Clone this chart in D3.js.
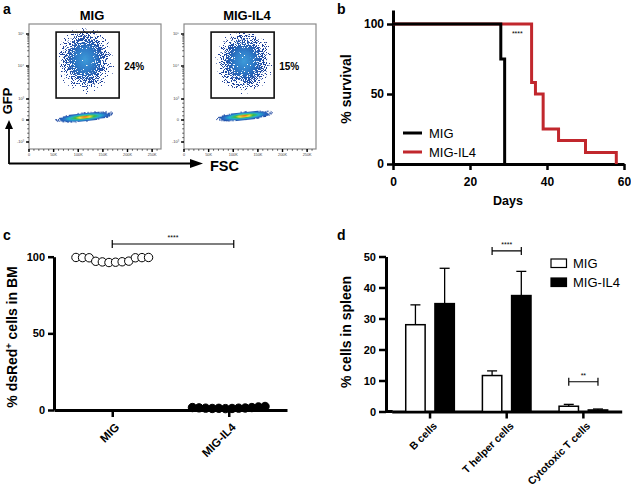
<!DOCTYPE html>
<html><head><meta charset="utf-8">
<script src="https://cdn.jsdelivr.net/npm/d3@7"></script>
<style>body{margin:0;background:#fff}svg{display:block;font-family:"Liberation Sans",Arial,Helvetica,sans-serif}</style>
</head><body><svg id="chart" width="631" height="493"></svg>
<script>
// ---------------- data ----------------
// panel a (flow cytometry)
const flowSamples = ["MIG", "MIG-IL4"];
const gatePercents = ["24%", "15%"];
const gateFSC = [55000, 183000];
const gateGFP = [1.03, 3.06];           // decades (1 = 10^3, 2 = 10^4, 3 = 10^5)
const posCenterFSC = [116000, 124000];
const posCenterGFP = [2.15, 2.1];
const posSpreadFSC = [62000, 62000];
const posSpreadGFP = [1.1, 1.05];
const negCenterFSC = [117000, 126000];
const negCenterGFP = [0.15, 0.2];
const negSpreadFSC = [66000, 63000];
const negSpreadGFP = [0.24, 0.24];
const fscTicks = [0, 50000, 100000, 150000, 200000, 250000];
const fscTickLabels = ["0", "50K", "100K", "150K", "200K", "250K"];
const gfpTicks = [-1, 0, 1, 2, 3];
const gfpTickLabels = ["-10\u00b3", "0", "10\u00b3", "10\u2074", "10\u2075"];

// panel b (survival)
const migDays = [0, 28, 29];
const migSurvival = [100, 75, 0];
const il4Days = [0, 36, 37, 39, 43, 50, 58];
const il4Survival = [100, 58.3, 50, 25, 16.7, 8.3, 0];
const survivalTicksX = [0, 20, 40, 60];
const survivalTicksY = [0, 50, 100];

// panel c (dsRed+ cells in BM)
const bmGroups = ["MIG", "MIG-IL4"];
const bmMIG = [99.5, 99.4, 99.3, 97.0, 96.6, 96.2, 96.4, 96.7, 97.1, 99.3, 99.4, 99.5];
const bmIL4 = [1.6, 1.4, 1.2, 1.0, 1.1, 0.9, 1.0, 1.2, 1.3, 1.6, 2.0, 2.3];
const bmTicks = [0, 50, 100];
const bmSigLabel = "****";
const bmSigY = 108.3;

// panel d (% cells in spleen)
const spleenCats = ["B cells", "T helper cells", "Cytotoxic T cells"];
const spleenSeries = ["MIG", "MIG-IL4"];
const spleenMIG = [28.0, 11.6, 1.7];
const spleenMIGerr = [6.4, 1.5, 0.6];
const spleenIL4 = [34.8, 37.4, 0.5];
const spleenIL4err = [11.4, 7.8, 0.3];
const spleenSig = ["", "****", "**"];
const spleenSigY = [null, 51.8, 9.6];
const spleenTicks = [0, 10, 20, 30, 40, 50];

// ---------------- drawing ----------------
const svg = d3.select("#chart");
const RED = "#c1272d";
const FONT = "Liberation Sans, Arial, sans-serif";
const defs = svg.append("defs");

// stipple filter to render density as dots
const f = defs.append("filter").attr("id", "stip")
  .attr("x", "-20%").attr("y", "-40%").attr("width", "140%").attr("height", "180%");
f.append("feTurbulence").attr("type", "fractalNoise").attr("baseFrequency", 1.1)
  .attr("numOctaves", 2).attr("seed", 7).attr("result", "noise");
f.append("feColorMatrix").attr("in", "noise").attr("type", "matrix")
  .attr("values", "0 0 0 0 0  0 0 0 0 0  0 0 0 0 0  1 0 0 0 0").attr("result", "na");
f.append("feComposite").attr("in", "SourceAlpha").attr("in2", "na").attr("operator", "arithmetic")
  .attr("k1", 0).attr("k2", 1).attr("k3", -1).attr("k4", 0).attr("result", "diff");
const ct = f.append("feComponentTransfer").attr("in", "diff").attr("result", "mask");
ct.append("feFuncA").attr("type", "linear").attr("slope", 30).attr("intercept", 0);
f.append("feColorMatrix").attr("in", "SourceGraphic").attr("type", "matrix")
  .attr("values", "1 0 0 0 0  0 1 0 0 0  0 0 1 0 0  0 0 0 0 1").attr("result", "opaque");
f.append("feComposite").attr("in", "opaque").attr("in2", "mask").attr("operator", "in");

const gPos = defs.append("radialGradient").attr("id", "gpos").attr("cx", "0.48").attr("cy", "0.47");
[[0, "#3d9ad8", 0.82], [0.3, "#2f7cc8", 0.7], [0.6, "#1f4ea6", 0.53], [0.85, "#1a3a94", 0.38], [1, "#1a3a94", 0.22]]
  .forEach(s => gPos.append("stop").attr("offset", s[0]).attr("stop-color", s[1]).attr("stop-opacity", s[2]));
const gNeg = defs.append("radialGradient").attr("id", "gneg").attr("cx", "0.47");
[[0, "#e3211c", 1], [0.1, "#f08a1c", 1], [0.18, "#f2e030", 1], [0.3, "#3dbb3d", 1],
 [0.48, "#22b5cf", 1], [0.66, "#2a6ec6", 0.85], [0.85, "#1f4aa3", 0.5], [1, "#1a3a94", 0.25]]
  .forEach(s => gNeg.append("stop").attr("offset", s[0]).attr("stop-color", s[1]).attr("stop-opacity", s[2]));

function boldText(sel, size) { return sel.attr("font-weight", "bold").attr("font-size", size); }

// panel letters
[["a", 3, 14], ["b", 337, 14], ["c", 3, 240], ["d", 337, 240]].forEach(l =>
  boldText(svg.append("text").attr("x", l[1]).attr("y", l[2]).text(l[0]), 14));

// ===== Panel a =====
const boxX0 = [29, 184], boxW = 132, boxTop = 24, boxBottom = 149;
const yF = d3.scaleLinear().domain([-1, 0, 1, 2, 3]).range([142, 120, 99, 66, 34]);
flowSamples.forEach((name, i) => {
  const xF = d3.scaleLinear().domain([0, 268000]).range([boxX0[i], boxX0[i] + boxW]);
  const g = svg.append("g");
  boldText(g.append("text").attr("x", boxX0[i] + boxW / 2 - 3).attr("y", 20)
    .attr("text-anchor", "middle").text(name), 13);
  const ell = (cx, cy, sx, sy, fill, tilt) => {
    const top = yF(cy + sy), bot = yF(cy - sy);
    const px = xF(cx), py = (top + bot) / 2;
    g.append("ellipse").attr("cx", px).attr("cy", py)
      .attr("rx", xF(cx + sx) - xF(cx)).attr("ry", (bot - top) / 2)
      .attr("transform", `rotate(${tilt},${px},${py})`)
      .attr("fill", fill).attr("filter", "url(#stip)");
  };
  ell(posCenterFSC[i], posCenterGFP[i], posSpreadFSC[i], posSpreadGFP[i], "url(#gpos)", 0);
  ell(negCenterFSC[i], negCenterGFP[i], negSpreadFSC[i], negSpreadGFP[i], "url(#gneg)", -6);
  g.append("rect").attr("x", boxX0[i]).attr("y", boxTop).attr("width", boxW).attr("height", boxBottom - boxTop)
    .attr("fill", "none").attr("stroke", "#8a8a8a").attr("stroke-width", 1.2);
  g.append("rect").attr("x", xF(gateFSC[0])).attr("y", yF(gateGFP[1]))
    .attr("width", xF(gateFSC[1]) - xF(gateFSC[0])).attr("height", yF(gateGFP[0]) - yF(gateGFP[1]))
    .attr("fill", "none").attr("stroke", "#111").attr("stroke-width", 1.6);
  boldText(g.append("text").attr("x", xF(gateFSC[1]) + 5).attr("y", yF(2) + 3.5).text(gatePercents[i]), 10);
  const minorY = [];
  d3.range(-1, 1.001, 0.2).forEach(v => minorY.push(v));
  [1, 2].forEach(n => d3.range(2, 10).forEach(k => minorY.push(n + Math.log10(k))));
  minorY.forEach(v => g.append("line").attr("x1", boxX0[i]).attr("x2", boxX0[i] - 1.8)
    .attr("y1", yF(v)).attr("y2", yF(v)).attr("stroke", "#222").attr("stroke-width", 0.7));
  gfpTicks.forEach((v, j) => {
    g.append("line").attr("x1", boxX0[i]).attr("x2", boxX0[i] - 3).attr("y1", yF(v)).attr("y2", yF(v))
      .attr("stroke", "#000").attr("stroke-width", 1.4);
    g.append("text").attr("x", boxX0[i] - 5).attr("y", yF(v) + 1.4).attr("text-anchor", "end")
      .attr("font-size", 4).attr("fill", "#444").text(gfpTickLabels[j]);
  });
  d3.range(0, 260001, 10000).forEach(v => g.append("line").attr("x1", xF(v)).attr("x2", xF(v))
    .attr("y1", boxBottom).attr("y2", boxBottom + 1.8).attr("stroke", "#222").attr("stroke-width", 0.7));
  fscTicks.forEach((v, j) => {
    g.append("line").attr("x1", xF(v)).attr("x2", xF(v)).attr("y1", boxBottom).attr("y2", boxBottom + 3)
      .attr("stroke", "#000").attr("stroke-width", 1.4);
    g.append("text").attr("x", xF(v)).attr("y", boxBottom + 6.6).attr("text-anchor", "middle")
      .attr("font-size", 3.8).attr("fill", "#444").text(fscTickLabels[j]);
  });
});
svg.append("path").attr("d", "M9,164 V127 M9,163.5 H190").attr("stroke", "#000").attr("stroke-width", 1.8).attr("fill", "none");
svg.append("path").attr("d", "M9,120 L5,129 L13,129 Z M203,163.5 L190,159 L190,168 Z").attr("fill", "#000");
boldText(svg.append("text").attr("transform", "translate(12,101) rotate(-90)").attr("text-anchor", "middle").text("GFP"), 13);
boldText(svg.append("text").attr("x", 210).attr("y", 170.5).text("FSC"), 14.5);

// ===== helpers =====
function styleAxis(g, size) {
  g.select(".domain").attr("stroke-width", 3);
  g.selectAll(".tick line").attr("stroke-width", 2.5);
  g.selectAll(".tick text").attr("font-weight", "bold").attr("font-size", size).attr("font-family", FONT);
}
function rotatedLabels(cats, xpos, yAxis, dx, dy, size) {
  cats.forEach(c => {
    svg.append("text")
      .attr("transform", `translate(${xpos(c) + dx},${yAxis + dy}) rotate(-45)`)
      .attr("text-anchor", "end").attr("dy", "0.35em")
      .attr("font-weight", "bold").attr("font-size", size).text(c);
  });
}

// ===== Panel b =====
const xB = d3.scaleLinear().domain([0, 60]).range([393, 624]);
const yB = d3.scaleLinear().domain([0, 110]).range([164, 10]);
const axBy = svg.append("g").attr("transform", "translate(393,0)")
  .call(d3.axisLeft(yB).tickValues(survivalTicksY).tickSize(6).tickSizeOuter(0).tickPadding(3));
styleAxis(axBy, 12);
const axBx = svg.append("g").attr("transform", "translate(0,164)")
  .call(d3.axisBottom(xB).tickValues(survivalTicksX).tickSize(6).tickSizeOuter(0).tickPadding(7));
styleAxis(axBx, 12);
const stepLine = d3.line().x(d => xB(d[0])).y(d => yB(d[1])).curve(d3.curveStepAfter);
svg.append("path").attr("d", stepLine(d3.zip(il4Days, il4Survival))).attr("fill", "none")
  .attr("stroke", RED).attr("stroke-width", 3);
svg.append("path").attr("d", stepLine(d3.zip(migDays, migSurvival))).attr("fill", "none")
  .attr("stroke", "#000").attr("stroke-width", 3);
svg.append("text").attr("x", xB(32.3)).attr("y", yB(91.5)).attr("text-anchor", "middle")
  .attr("font-size", 7).text("****");
boldText(svg.append("text").attr("x", 508).attr("y", 205).attr("text-anchor", "middle").text("Days"), 12.5);
boldText(svg.append("text").attr("transform", "translate(351,89) rotate(-90)").attr("text-anchor", "middle").text("% survival"), 14);
[["MIG", "#000", 133], ["MIG-IL4", RED, 152]].forEach(l => {
  svg.append("line").attr("x1", 403).attr("x2", 422).attr("y1", l[2]).attr("y2", l[2])
    .attr("stroke", l[1]).attr("stroke-width", 3);
  svg.append("text").attr("x", 429).attr("y", l[2] + 4.6).attr("font-size", 13).text(l[0]);
});

// ===== Panel c =====
const yC = d3.scaleLinear().domain([0, 100]).range([410, 256.7]);
const xC = d3.scalePoint().domain(bmGroups).range([54, 287]).padding(0.5);
const axCy = svg.append("g").attr("transform", "translate(54,0)")
  .call(d3.axisLeft(yC).tickValues(bmTicks).tickSize(6).tickSizeOuter(0).tickPadding(3));
styleAxis(axCy, 11);
const axCx = svg.append("g").attr("transform", "translate(0,410)")
  .call(d3.axisBottom(xC).tickSize(7).tickSizeOuter(0).tickFormat(() => ""));
styleAxis(axCx, 11);
rotatedLabels(bmGroups, xC, 410, 5, 15, 11.5);
[[bmMIG, "MIG", "#fff"], [bmIL4, "MIG-IL4", "#000"]].forEach(s => {
  const vals = s[0], cx = xC(s[1]), n = vals.length;
  const m = d3.mean(vals);
  svg.append("line").attr("x1", cx - 39).attr("x2", cx + 39).attr("y1", yC(m)).attr("y2", yC(m))
    .attr("stroke", "#000").attr("stroke-width", 1.3);
  svg.append("g").selectAll("circle").data(vals).join("circle")
    .attr("cx", (d, i) => cx + (i - (n - 1) / 2) * 6.6).attr("cy", d => yC(d)).attr("r", 4.2)
    .attr("fill", s[2]).attr("stroke", "#000").attr("stroke-width", 1);
});
{
  const x1 = xC(bmGroups[0]), x2 = xC(bmGroups[1]) + 5, y = yC(bmSigY);
  svg.append("path").attr("d", `M${x1},${y - 4}V${y + 4}M${x1},${y}H${x2}M${x2},${y - 4}V${y + 4}`)
    .attr("stroke", "#000").attr("stroke-width", 1.2).attr("fill", "none");
  svg.append("text").attr("x", (x1 + x2) / 2).attr("y", y - 4).attr("text-anchor", "middle")
    .attr("font-size", 7).text(bmSigLabel);
}
{
  const t = boldText(svg.append("text").attr("transform", "translate(17,337) rotate(-90)")
    .attr("text-anchor", "middle"), 14);
  t.append("tspan").text("% dsRed");
  t.append("tspan").attr("font-size", 9).attr("dy", -5).text("+");
  t.append("tspan").attr("dy", 5).text(" cells  in BM");
}

// ===== Panel d =====
const yD = d3.scaleLinear().domain([0, 50]).range([411.5, 256.5]);
const xD = d3.scaleBand().domain(spleenCats).range([391.7, 621.7]);
const xDs = d3.scaleBand().domain(spleenSeries).range([-24.3, 24.3]).paddingInner(0.336);
const axDy = svg.append("g").attr("transform", "translate(386,0)")
  .call(d3.axisLeft(yD).tickValues(spleenTicks).tickSize(7).tickSizeOuter(0).tickPadding(3));
styleAxis(axDy, 11);
const axDx = svg.append("g").attr("transform", "translate(0,411.5)")
  .call(d3.axisBottom(xD).tickSize(7).tickSizeOuter(0).tickFormat(() => ""));
styleAxis(axDx, 11);
axDx.append("line").attr("x1", 386).attr("x2", xD.range()[0] + 1).attr("stroke", "#000").attr("stroke-width", 3);
rotatedLabels(spleenCats, c => xD(c) + xD.bandwidth() / 2, 411.5, 5, 12.5, 10.5);
const seriesData = [[spleenMIG, spleenMIGerr, "#fff"], [spleenIL4, spleenIL4err, "#000"]];
seriesData.forEach((s, si) => {
  spleenCats.forEach((c, ci) => {
    const x = xD(c) + xD.bandwidth() / 2 + xDs(spleenSeries[si]);
    const w = xDs.bandwidth(), v = s[0][ci], e = s[1][ci];
    const xc = x + w / 2;
    svg.append("line").attr("x1", xc).attr("x2", xc).attr("y1", yD(v)).attr("y2", yD(v + e))
      .attr("stroke", "#000").attr("stroke-width", 1.3);
    svg.append("line").attr("x1", xc - 5).attr("x2", xc + 5).attr("y1", yD(v + e)).attr("y2", yD(v + e))
      .attr("stroke", "#000").attr("stroke-width", 1.3);
    svg.append("rect").attr("x", x).attr("y", yD(v)).attr("width", w).attr("height", yD(0) - yD(v))
      .attr("fill", s[2]).attr("stroke", "#000").attr("stroke-width", 1.5);
  });
});
spleenCats.forEach((c, ci) => {
  if (!spleenSig[ci]) return;
  const cx = xD(c) + xD.bandwidth() / 2;
  const x1 = cx + xDs("MIG") + xDs.bandwidth() / 2, x2 = cx + xDs("MIG-IL4") + xDs.bandwidth() / 2;
  const y = yD(spleenSigY[ci]);
  svg.append("path").attr("d", `M${x1},${y - 4}V${y + 4}M${x1},${y}H${x2}M${x2},${y - 4}V${y + 4}`)
    .attr("stroke", "#000").attr("stroke-width", 1.2).attr("fill", "none");
  svg.append("text").attr("x", (x1 + x2) / 2).attr("y", y - 3.5).attr("text-anchor", "middle")
    .attr("font-size", 7).text(spleenSig[ci]);
});
boldText(svg.append("text").attr("transform", "translate(351,332) rotate(-90)").attr("text-anchor", "middle")
  .text("% cells in spleen"), 14);
spleenSeries.forEach((s, i) => {
  const y = 259 + i * 19;
  svg.append("rect").attr("x", 551).attr("y", y).attr("width", 15.5).attr("height", 8.5)
    .attr("fill", i ? "#000" : "#fff").attr("stroke", "#000").attr("stroke-width", 1.2);
  svg.append("text").attr("x", 573).attr("y", y + 8.5).attr("font-size", 13).text(s);
});
</script></body></html>
